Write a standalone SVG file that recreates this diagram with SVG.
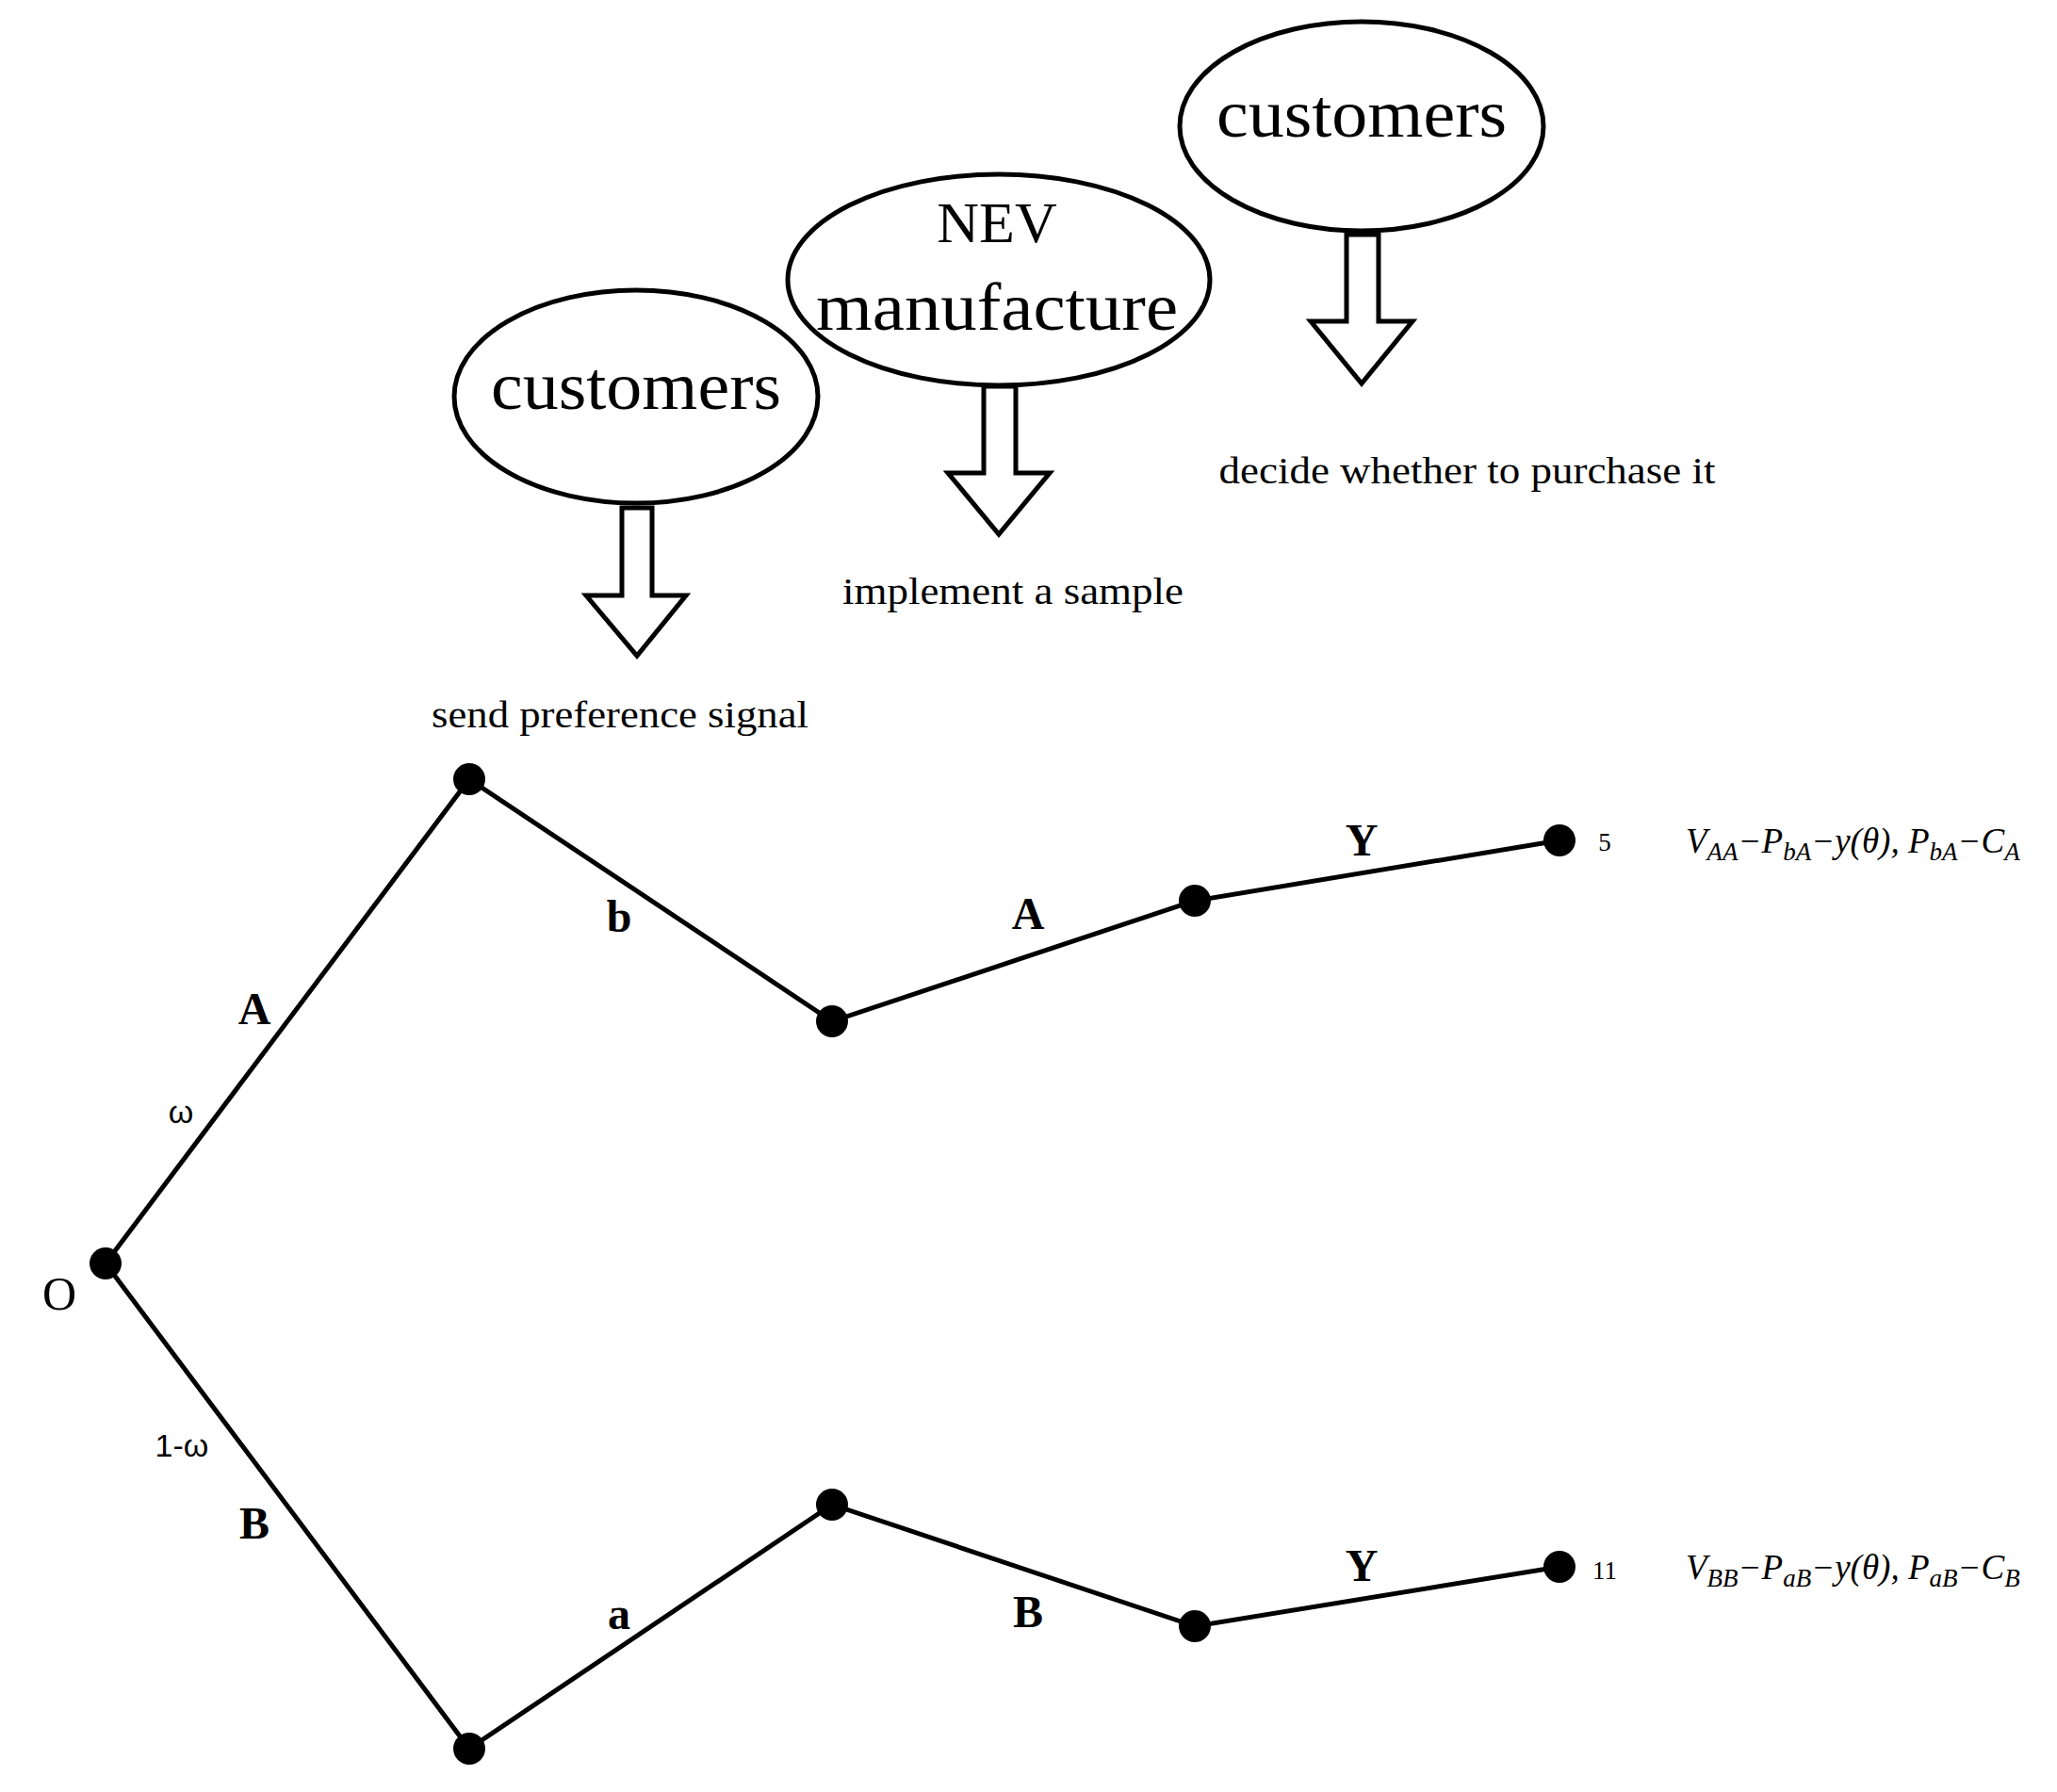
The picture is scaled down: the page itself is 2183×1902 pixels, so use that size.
<svg xmlns="http://www.w3.org/2000/svg" width="2183" height="1902" viewBox="0 0 2183 1902">
<style>
.ell{fill:#fff;stroke:#000;stroke-width:5}
.arr{fill:#fff;stroke:#000;stroke-width:5;stroke-linejoin:miter}
.t{font-family:"Liberation Serif",serif;fill:#000;text-anchor:middle}
.edge{stroke:#000;stroke-width:5;fill:none}
.dot{fill:#000}
.lb{font-family:"Liberation Serif",serif;font-weight:bold;font-size:48px;text-anchor:middle}
.sm{font-family:"Liberation Sans",sans-serif;font-size:34px;text-anchor:middle}
.pay{font-family:"Liberation Serif",serif;font-style:italic;font-size:37px}
</style>
<rect width="2183" height="1902" fill="#fff"/>
<g id="stage1">
<ellipse class="ell" cx="675" cy="421" rx="193" ry="113"/>
<text class="t" x="675" y="434" font-size="72" textLength="308" lengthAdjust="spacingAndGlyphs">customers</text>
<path class="arr" d="M660,539 H692 V632 H728 L676,696 L622,632 H660 Z"/>
<text class="t" x="658" y="772" font-size="39" textLength="400" lengthAdjust="spacingAndGlyphs">send preference signal</text>
</g>
<g id="stage2">
<ellipse class="ell" cx="1060" cy="297" rx="224" ry="112"/>
<text class="t" x="1058" y="257" font-size="62">NEV</text>
<text class="t" x="1058" y="350" font-size="72" textLength="384" lengthAdjust="spacingAndGlyphs">manufacture</text>
<path class="arr" d="M1044,410 H1078 V502 H1114 L1060,567 L1006,502 H1044 Z"/>
<text class="t" x="1075" y="641" font-size="39" textLength="362" lengthAdjust="spacingAndGlyphs">implement a sample</text>
</g>
<g id="stage3">
<ellipse class="ell" cx="1445" cy="134" rx="193" ry="111"/>
<text class="t" x="1445" y="145" font-size="72" textLength="308" lengthAdjust="spacingAndGlyphs">customers</text>
<path class="arr" d="M1429,249 H1463 V341 H1499 L1445,407 L1391,341 H1429 Z"/>
<text class="t" x="1557" y="513" font-size="39" textLength="527" lengthAdjust="spacingAndGlyphs">decide whether to purchase it</text>
</g>
<g id="edges">
<polyline class="edge" points="112,1341 498,827 883,1084 1268,956 1655,892"/>
<polyline class="edge" points="112,1341 498,1856 883,1597 1268,1726 1655,1663"/>
</g>
<g id="nodes">
<circle class="dot" cx="112" cy="1341" r="17"/>
<circle class="dot" cx="498" cy="827" r="17"/>
<circle class="dot" cx="883" cy="1084" r="17"/>
<circle class="dot" cx="1268" cy="956" r="17"/>
<circle class="dot" cx="1655" cy="892" r="17"/>
<circle class="dot" cx="498" cy="1856" r="17"/>
<circle class="dot" cx="883" cy="1597" r="17"/>
<circle class="dot" cx="1268" cy="1726" r="17"/>
<circle class="dot" cx="1655" cy="1663" r="17"/>
</g>
<g id="labels">
<text class="lb" x="270" y="1087">A</text>
<text class="sm" x="192" y="1192">ω</text>
<text class="t" x="63" y="1390" font-size="50">O</text>
<text class="sm" x="193" y="1546">1-ω</text>
<text class="lb" x="270" y="1633">B</text>
<text class="lb" x="657" y="989">b</text>
<text class="lb" x="1091" y="986">A</text>
<text class="lb" x="1445" y="908">Y</text>
<text class="lb" x="657" y="1729">a</text>
<text class="lb" x="1091" y="1727">B</text>
<text class="lb" x="1445" y="1678">Y</text>
<text class="t" x="1703" y="903" font-size="27">5</text>
<text class="t" x="1703" y="1676" font-size="27">11</text>
<text class="pay" x="1789" y="905">V<tspan font-size="27" dy="8">AA</tspan><tspan dy="-8">−P</tspan><tspan font-size="27" dy="8">bA</tspan><tspan dy="-8">−y(θ), P</tspan><tspan font-size="27" dy="8">bA</tspan><tspan dy="-8">−C</tspan><tspan font-size="27" dy="8">A</tspan></text>
<text class="pay" x="1789" y="1676">V<tspan font-size="27" dy="8">BB</tspan><tspan dy="-8">−P</tspan><tspan font-size="27" dy="8">aB</tspan><tspan dy="-8">−y(θ), P</tspan><tspan font-size="27" dy="8">aB</tspan><tspan dy="-8">−C</tspan><tspan font-size="27" dy="8">B</tspan></text>
</g>
</svg>
